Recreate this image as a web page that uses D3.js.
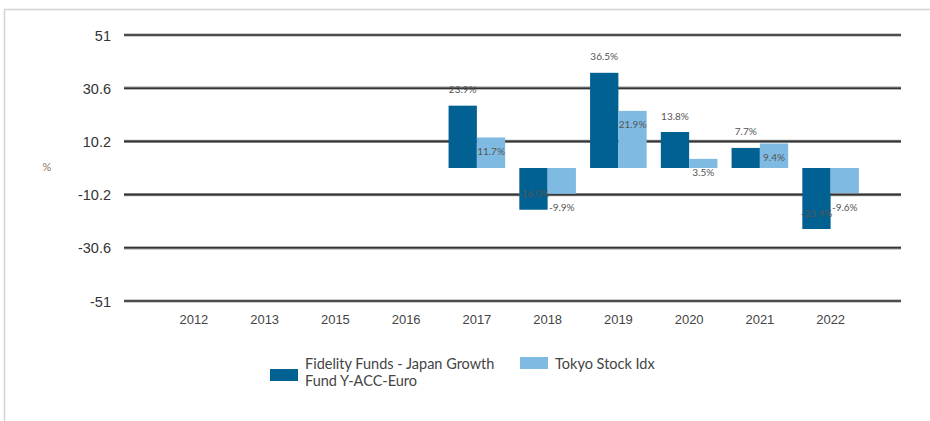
<!DOCTYPE html>
<html><head><meta charset="utf-8">
<script src="https://cdn.jsdelivr.net/npm/d3@7"></script>
<style>
body{margin:0;background:#fff;}
svg{display:block;font-family:Lato, "Noto Sans", sans-serif;}
</style></head>
<body><svg id="c" width="930" height="421"></svg>
<script>
const categories = ["2012","2013","2015","2016","2017","2018","2019","2020","2021","2022"];
const fundValues = [null,null,null,null,23.9,-16.0,36.5,13.8,7.7,-23.4];
const indexValues = [null,null,null,null,11.7,-9.9,21.9,3.5,9.4,-9.6];
const yTicks = [51,30.6,10.2,-10.2,-30.6,-51];
const seriesNames = ["Fidelity Funds - Japan Growth Fund Y-ACC-Euro","Tokyo Stock Idx"];
const colors = ["#006192","#7fbae2"];

const svg = d3.select("#c");
// frame
svg.append("line").attr("x1",4.5).attr("x2",4.5).attr("y1",9).attr("y2",421).attr("stroke","#d4d4d4").attr("stroke-width",1.5);
svg.append("line").attr("x1",4).attr("x2",930).attr("y1",9.5).attr("y2",9.5).attr("stroke","#d4d4d4").attr("stroke-width",1.5);

const y = d3.scaleLinear().domain([-51,51]).range([301,35]);
const x = d3.scaleBand().domain(categories).range([158.5,866]).paddingInner(0.2).paddingOuter(0.1);
const xs = d3.scaleBand().domain([0,1]).range([0,x.bandwidth()]);

// grid lines
const gx1 = 124, gx2 = 901;
yTicks.forEach(t=>{
  svg.append("line").attr("x1",gx1).attr("x2",gx2).attr("y1",y(t)).attr("y2",y(t)).attr("stroke","#9a9a9a").attr("stroke-width",3.2);
  svg.append("line").attr("x1",gx1).attr("x2",gx2).attr("y1",y(t)).attr("y2",y(t)).attr("stroke","#333").attr("stroke-width",1.6);
});
// y axis labels
const yAxis = d3.axisLeft(y).tickValues(yTicks).tickSize(0).tickPadding(0).tickFormat(d=>String(d));
const ya = svg.append("g").attr("transform","translate(111,0)").call(yAxis);
ya.select(".domain").remove();
ya.selectAll("text").attr("font-size",14.5).attr("fill","#333").attr("dy","0.35em");
svg.append("text").attr("x",47).attr("y",167).attr("dy","0.35em").attr("text-anchor","middle").attr("font-size",11).attr("fill","#8a7060").text("%");

// x axis labels
const xAxis = d3.axisBottom(x).tickSize(0).tickPadding(0);
const xa = svg.append("g").attr("transform","translate(0,315)").call(xAxis);
xa.select(".domain").remove();
xa.selectAll("text").attr("font-size",13).attr("fill","#444").attr("dy","0.71em");

// bars
const series = [fundValues, indexValues];
series.forEach((vals,si)=>{
  const g = svg.append("g");
  categories.forEach((c,i)=>{
    const v = vals[i];
    if(v==null) return;
    const bx = x(c)+xs(si);
    g.append("rect").attr("x",bx).attr("width",xs.bandwidth())
      .attr("y",Math.min(y(v),y(0))).attr("height",Math.abs(y(v)-y(0)))
      .attr("fill",colors[si]);
    const ly = si===0 ? y(v)-16 : y(v)+14;
    g.append("text").attr("x",bx+xs.bandwidth()/2).attr("y",ly).attr("dy","0.35em")
      .attr("text-anchor","middle").attr("font-size",10).attr("fill","#555")
      .text(v.toFixed(1)+"%");
  });
});

// legend
const lg = svg.append("g");
lg.append("rect").attr("x",270).attr("y",369).attr("width",28).attr("height",12).attr("fill",colors[0]);
const t1 = lg.append("text").attr("x",305).attr("font-size",14.5).attr("fill","#444");
t1.append("tspan").attr("x",305).attr("y",369).text("Fidelity Funds - Japan Growth");
t1.append("tspan").attr("x",305).attr("y",386).text("Fund Y-ACC-Euro");
lg.append("rect").attr("x",520).attr("y",357).attr("width",28).attr("height",12).attr("fill",colors[1]);
lg.append("text").attr("x",555).attr("y",369).attr("font-size",14.5).attr("fill","#444").text(seriesNames[1]);
</script></body></html>
